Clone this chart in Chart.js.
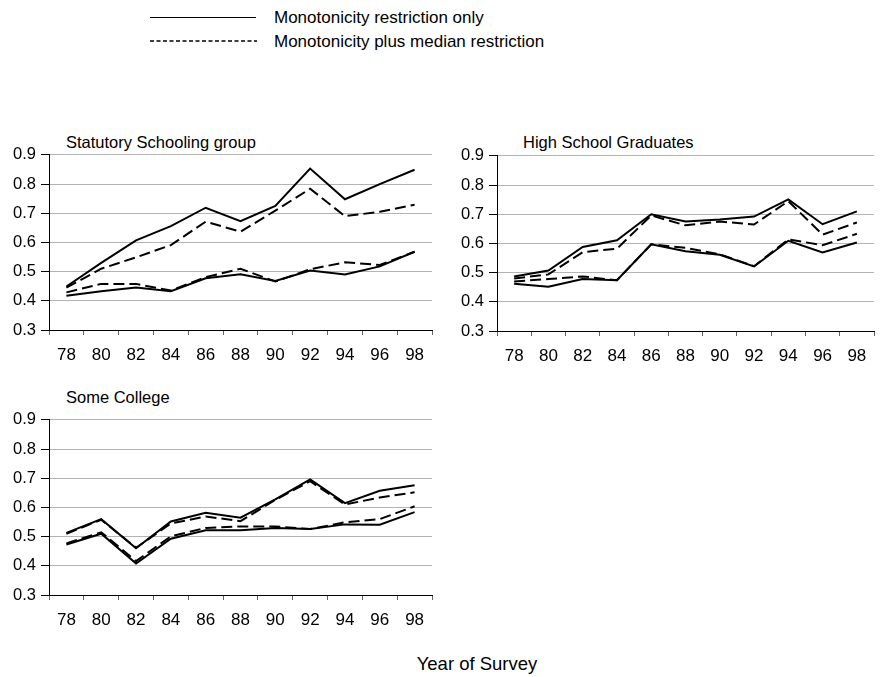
<!DOCTYPE html>
<html><head><meta charset="utf-8">
<script src="https://cdn.jsdelivr.net/npm/chart.js@4.4.0/dist/chart.umd.min.js"></script>
<style>
html,body{margin:0;padding:0;background:#fff;}
body{width:882px;height:677px;position:relative;overflow:hidden;font-family:"Liberation Sans",Arial,sans-serif;color:#000;}
.c{position:absolute;}
.t{position:absolute;font-size:16.5px;line-height:18px;white-space:nowrap;}
.lg{position:absolute;font-size:17px;line-height:20px;white-space:nowrap;}
.xl{position:absolute;font-size:18.5px;line-height:22px;white-space:nowrap;}
</style></head><body>
<svg class="c" style="left:0;top:0" width="882" height="60">
  <line x1="150" y1="17.5" x2="256" y2="17.5" stroke="#000" stroke-width="1"/>
  <line x1="150" y1="41" x2="257" y2="41" stroke="#000" stroke-width="1.5" stroke-dasharray="4,2.5"/>
</svg>
<div class="lg" style="left:274px;top:8px">Monotonicity restriction only</div>
<div class="lg" style="left:274px;top:32px">Monotonicity plus median restriction</div>
<div class="t" style="left:66px;top:133px">Statutory Schooling group</div>
<div class="t" style="left:523px;top:133px">High School Graduates</div>
<div class="t" style="left:66px;top:388px">Some College</div>
<div class="xl" style="left:0;width:954px;text-align:center;top:653px">Year of Survey</div>
<canvas id="c1" class="c" style="left:0;top:140px" width="440" height="235"></canvas>
<canvas id="c2" class="c" style="left:448px;top:141px" width="434" height="235"></canvas>
<canvas id="c3" class="c" style="left:0;top:405px" width="440" height="235"></canvas>
<script>
const years = ["78","80","82","84","86","88","90","92","94","96","98"];
const yTicks = [0.3,0.4,0.5,0.6,0.7,0.8,0.9];

// Statutory Schooling group
const statUpperSolid  = [0.449,0.53,0.607,0.656,0.719,0.673,0.725,0.853,0.748,0.800,0.849];
const statUpperDashed = [0.445,0.51,0.549,0.591,0.671,0.637,0.709,0.784,0.690,0.705,0.729];
const statLowerSolid  = [0.417,0.433,0.446,0.433,0.477,0.491,0.468,0.504,0.490,0.518,0.568];
const statLowerDashed = [0.429,0.458,0.458,0.435,0.481,0.510,0.466,0.508,0.532,0.523,0.568];

// High School Graduates
const hsUpperSolid  = [0.487,0.507,0.588,0.611,0.700,0.675,0.682,0.692,0.751,0.666,0.710];
const hsUpperDashed = [0.480,0.494,0.570,0.582,0.696,0.662,0.675,0.665,0.745,0.630,0.672];
const hsLowerSolid  = [0.462,0.452,0.478,0.474,0.597,0.573,0.561,0.521,0.609,0.569,0.603];
const hsLowerDashed = [0.470,0.478,0.487,0.474,0.597,0.585,0.563,0.522,0.614,0.594,0.633];

// Some College
const scUpperSolid  = [0.513,0.560,0.460,0.552,0.582,0.565,0.628,0.696,0.615,0.657,0.676];
const scUpperDashed = [0.510,0.558,0.462,0.545,0.569,0.553,0.626,0.690,0.610,0.634,0.652];
const scLowerSolid  = [0.473,0.510,0.408,0.493,0.522,0.522,0.530,0.526,0.542,0.541,0.584];
const scLowerDashed = [0.477,0.515,0.416,0.501,0.530,0.535,0.535,0.526,0.549,0.560,0.604];

const FONT = "'Liberation Sans', Arial, sans-serif";

function ds(label, data, dashed){
  return {label, data, borderColor:'#000', backgroundColor:'#000', borderWidth:2,
    borderDash: dashed ? [11,5] : [], pointRadius:0, tension:0, fill:false};
}

function makeChart(id, us, ud, ls, ld){
  new Chart(document.getElementById(id), {
    type:'line',
    data:{labels:years, datasets:[
      ds('Monotonicity restriction only', us, false),
      ds('Monotonicity restriction only', ls, false),
      ds('Monotonicity plus median restriction', ud, true),
      ds('Monotonicity plus median restriction', ld, true)
    ]},
    options:{
      responsive:false, animation:false, maintainAspectRatio:false,
      layout:{padding:{top:9,right:8,left:0,bottom:0}},
      plugins:{legend:{display:false},tooltip:{enabled:false},title:{display:false}},
      scales:{
        x:{type:'category', offset:true,
          grid:{drawOnChartArea:false, offset:true, tickLength:5, color:'#666', lineWidth:1},
          border:{color:'#000', width:1},
          ticks:{font:{family:FONT,size:17}, color:'#000', padding:10, maxRotation:0, autoSkip:false},
          afterFit:(s)=>{s.height=45;}
        },
        y:{min:0.3, max:0.9,
          afterBuildTicks:(s)=>{s.ticks = yTicks.map(v=>({value:v}));},
          grid:{color:'#b4b4b4', lineWidth:1, tickLength:8, tickColor:'#000'},
          border:{color:'#000', width:1},
          ticks:{font:{family:FONT,size:16.5}, color:'#000', padding:5, callback:(v)=>Number(v).toFixed(1)},
          afterFit:(s)=>{s.width=49;}
        }
      }
    }
  });
}
makeChart('c1', statUpperSolid, statUpperDashed, statLowerSolid, statLowerDashed);
makeChart('c2', hsUpperSolid, hsUpperDashed, hsLowerSolid, hsLowerDashed);
makeChart('c3', scUpperSolid, scUpperDashed, scLowerSolid, scLowerDashed);
</script>
</body></html>
